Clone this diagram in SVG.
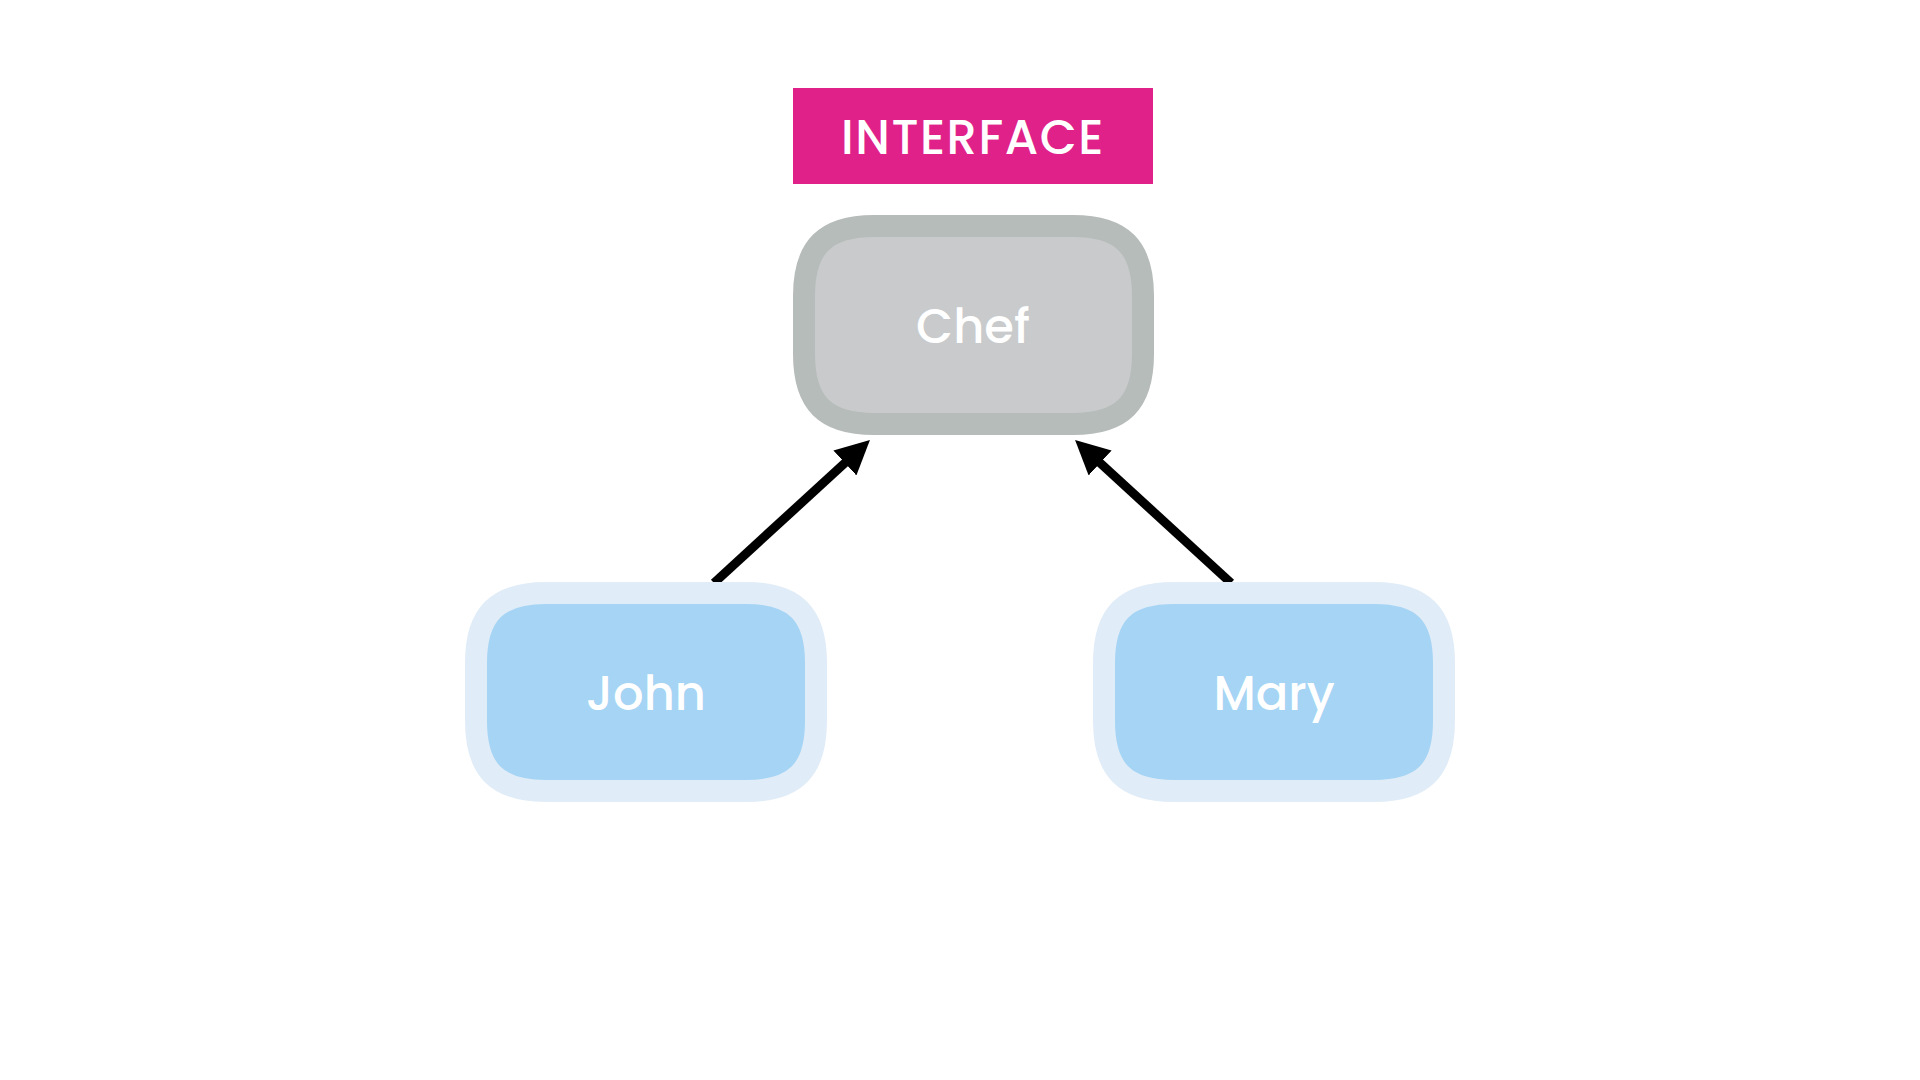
<svg xmlns="http://www.w3.org/2000/svg" width="1920" height="1080" viewBox="0 0 1920 1080">
<defs>
<style>
.lbl{font-family:Poppins,"Inter","Noto Sans",sans-serif;font-weight:500;fill:#FFFFFF;text-anchor:middle}
.node-text{font-size:48px}
.chef{fill:#C8CACC;stroke:#B6BCB9;stroke-width:22}
.impl{fill:#A5D4F4;stroke:#E0ECF8;stroke-width:22}
.conn{stroke:#000000;stroke-width:9;fill:none}
</style>
<marker id="arrow" viewBox="0 0 34 34" refX="14" refY="17" markerWidth="34" markerHeight="34" markerUnits="userSpaceOnUse" orient="auto">
<path d="M0,0 L34,17 L0,34 z" fill="#000000"/>
</marker>
</defs>
<rect width="1920" height="1080" fill="#FFFFFF"/>
<g id="connectors">
<line class="conn" x1="714" y1="583" x2="855.2" y2="453.5" marker-end="url(#arrow)"/>
<line class="conn" x1="1231" y1="583" x2="1089.8" y2="453.5" marker-end="url(#arrow)"/>
</g>
<g id="interface-label">
<rect x="793" y="88" width="360" height="96" fill="#DF2189"/>
<text class="lbl" x="973" y="154" font-size="48" letter-spacing="1.5">INTERFACE</text>
</g>
<g id="chef">
<path class="chef" d="M874,226 H1073 C1122,226 1143,247 1143,296 V354 C1143,403 1122,424 1073,424 H874 C825,424 804,403 804,354 V296 C804,247 825,226 874,226 Z"/>
<text class="lbl node-text" x="973" y="343">Chef</text>
</g>
<g id="john">
<path class="impl" d="M546,593 H746 C795,593 816,614 816,663 V721 C816,770 795,791 746,791 H546 C497,791 476,770 476,721 V663 C476,614 497,593 546,593 Z"/>
<text class="lbl node-text" x="646" y="710">John</text>
</g>
<g id="mary">
<path class="impl" d="M1174,593 H1374 C1423,593 1444,614 1444,663 V721 C1444,770 1423,791 1374,791 H1174 C1125,791 1104,770 1104,721 V663 C1104,614 1125,593 1174,593 Z"/>
<text class="lbl node-text" x="1274" y="710">Mary</text>
</g>
</svg>
